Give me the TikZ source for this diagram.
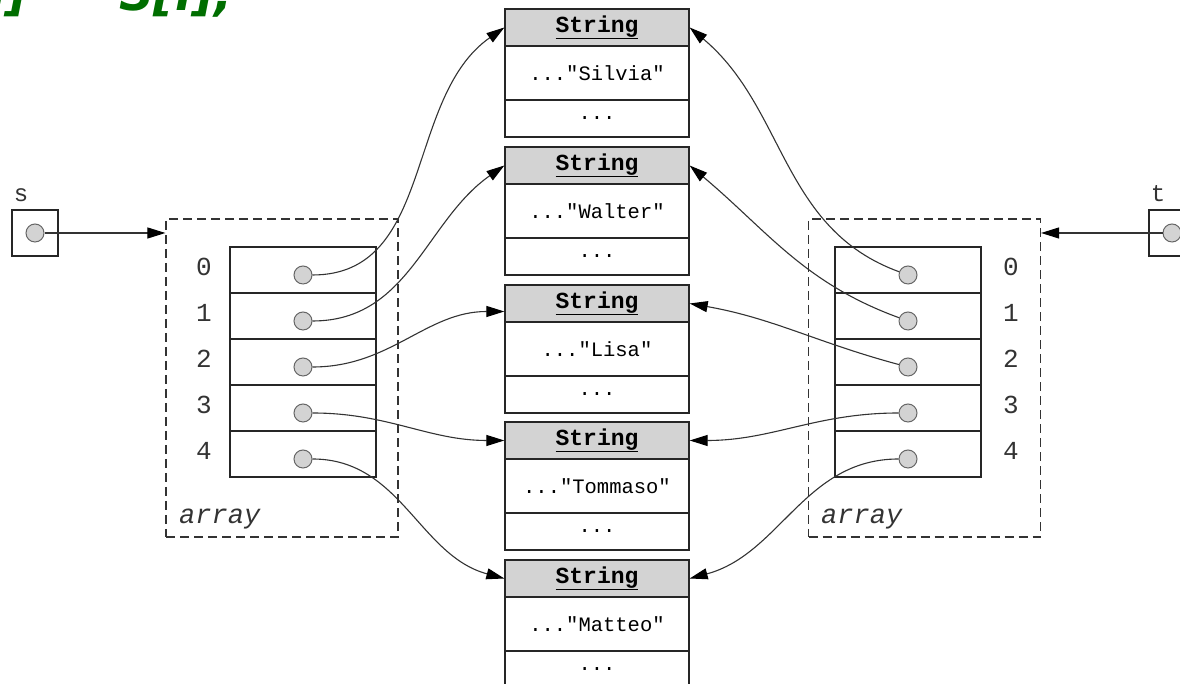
\documentclass[tikz,border=0pt]{standalone}
\usepackage{fontspec}
\setmonofont{Liberation Mono}
\newfontfamily\codefont{DejaVu Sans}
\usetikzlibrary{arrows.meta}
\definecolor{cellgray}{HTML}{D3D3D3}
\definecolor{inkgray}{HTML}{333333}
\definecolor{codegreen}{HTML}{006E00}
\begin{document}
\begin{tikzpicture}[x=1pt,y=1pt,
  strbox/.style={draw=black!85, line width=1.3pt, minimum width=184pt, inner sep=0pt,
    font=\ttfamily\fontsize{20.5}{25}\selectfont},
  hdr/.style={strbox, fill=cellgray, minimum height=37pt,
    font=\ttfamily\bfseries\fontsize{23}{27}\selectfont},
  midrow/.style={strbox, minimum height=54pt},
  lastrow/.style={strbox, minimum height=37pt},
  cellbox/.style={draw=black!85, line width=1.3pt, minimum width=146pt, minimum height=46pt, inner sep=0pt},
  ptr/.style={circle, draw=black!60, fill=cellgray, line width=1pt, minimum size=18pt, inner sep=0pt},
  idx/.style={font=\ttfamily\fontsize{26}{28}\selectfont, text=inkgray, inner sep=0pt},
  varlabel/.style={font=\ttfamily\fontsize{24}{26}\selectfont, text=inkgray, inner sep=0pt},
  arrframe/.style={draw=inkgray, dash pattern=on 9pt off 5pt, line width=1.2pt,
    minimum width=232pt, minimum height=318pt, inner sep=0pt},
  arrname/.style={font=\ttfamily\itshape\fontsize{27}{29}\selectfont, text=inkgray, inner sep=0pt, anchor=base west},
  varbox/.style={draw=black!85, line width=1.3pt, minimum size=46pt, inner sep=0pt},
  link/.style={draw=inkgray, line width=1.1pt, -{Triangle[length=18pt,width=11pt,color=black]}},
  code/.style={font=\codefont\bfseries\itshape\fontsize{48}{50}\selectfont, text=codegreen, inner sep=0pt},
]
\useasboundingbox (0,0) rectangle (1180,684);

% statement at the top
\node[code, anchor=base east] (lhs) at (28,673) {t[i]};
\node[code, anchor=base west] (rhs) at (119,673) {S[i];};

% dashed array frames
\node[arrframe] (lframe) at (282,306) {};
\node[arrframe] (rframe) at (924.5,306) {};
\node[arrname] (lname) at (179,160) {array};
\node[arrname] (rname) at (821,160) {array};

% array cells, pointers and indices
\foreach \i/\yc in {0/414,1/368,2/322,3/276,4/230}{
  \node[cellbox] (lc\i) at (303,\yc) {};
  \node[cellbox] (rc\i) at (908,\yc) {};
  \node[ptr] (l\i) at (303,\yc-5) {};
  \node[ptr] (r\i) at (908,\yc-5) {};
  \node[idx] (li\i) at (204,\yc+3) {\i};
  \node[idx] (ri\i) at (1011,\yc+3) {\i};
}

% String objects
\foreach \k/\top/\txt in {1/675/Silvia,2/537/Walter,3/399/Lisa,4/262/Tommaso,5/124/Matteo}{
  \node[hdr] (h\k) at (597,\top-18.5) {\underline{String}};
  \node[midrow] (m\k) at (597,\top-64) {..."\txt"};
  \node[lastrow] (b\k) at (597,\top-109.5) {...};
}

% variables s and t
\node[varbox] (sbox) at (35,451) {};
\node[ptr] (sp) at (35,451) {};
\node[varlabel] (slab) at (21,489) {s};
\node[varbox] (tbox) at (1172,451) {};
\node[ptr] (tp) at (1172,451) {};
\node[varlabel] (tlab) at (1158,490) {t};

\draw[link] (sp) -- (sp -| lframe.west);
\draw[link] (tp) -- (tp -| rframe.east);

% references from the left array
\draw[link] (l0) to[out=0,in=215] (h1.west);
\draw[link] (l1) to[out=0,in=215] (h2.west);
\draw[link] (l2) to[out=0,in=180] ([yshift=-8pt]h3.west);
\draw[link] (l3) to[out=0,in=180] (h4.west);
\draw[link] (l4) to[out=0,in=165] (h5.west);

% references from the right array
\draw[link] (r0) to[out=160,in=-40] (h1.east);
\draw[link] (r1) to[out=160,in=-40] (h2.east);
\draw[link] (r2) to[out=165,in=-10] (h3.east);
\draw[link] (r3) to[out=180,in=0] (h4.east);
\draw[link] (r4) to[out=180,in=15] (h5.east);
\end{tikzpicture}
\end{document}
